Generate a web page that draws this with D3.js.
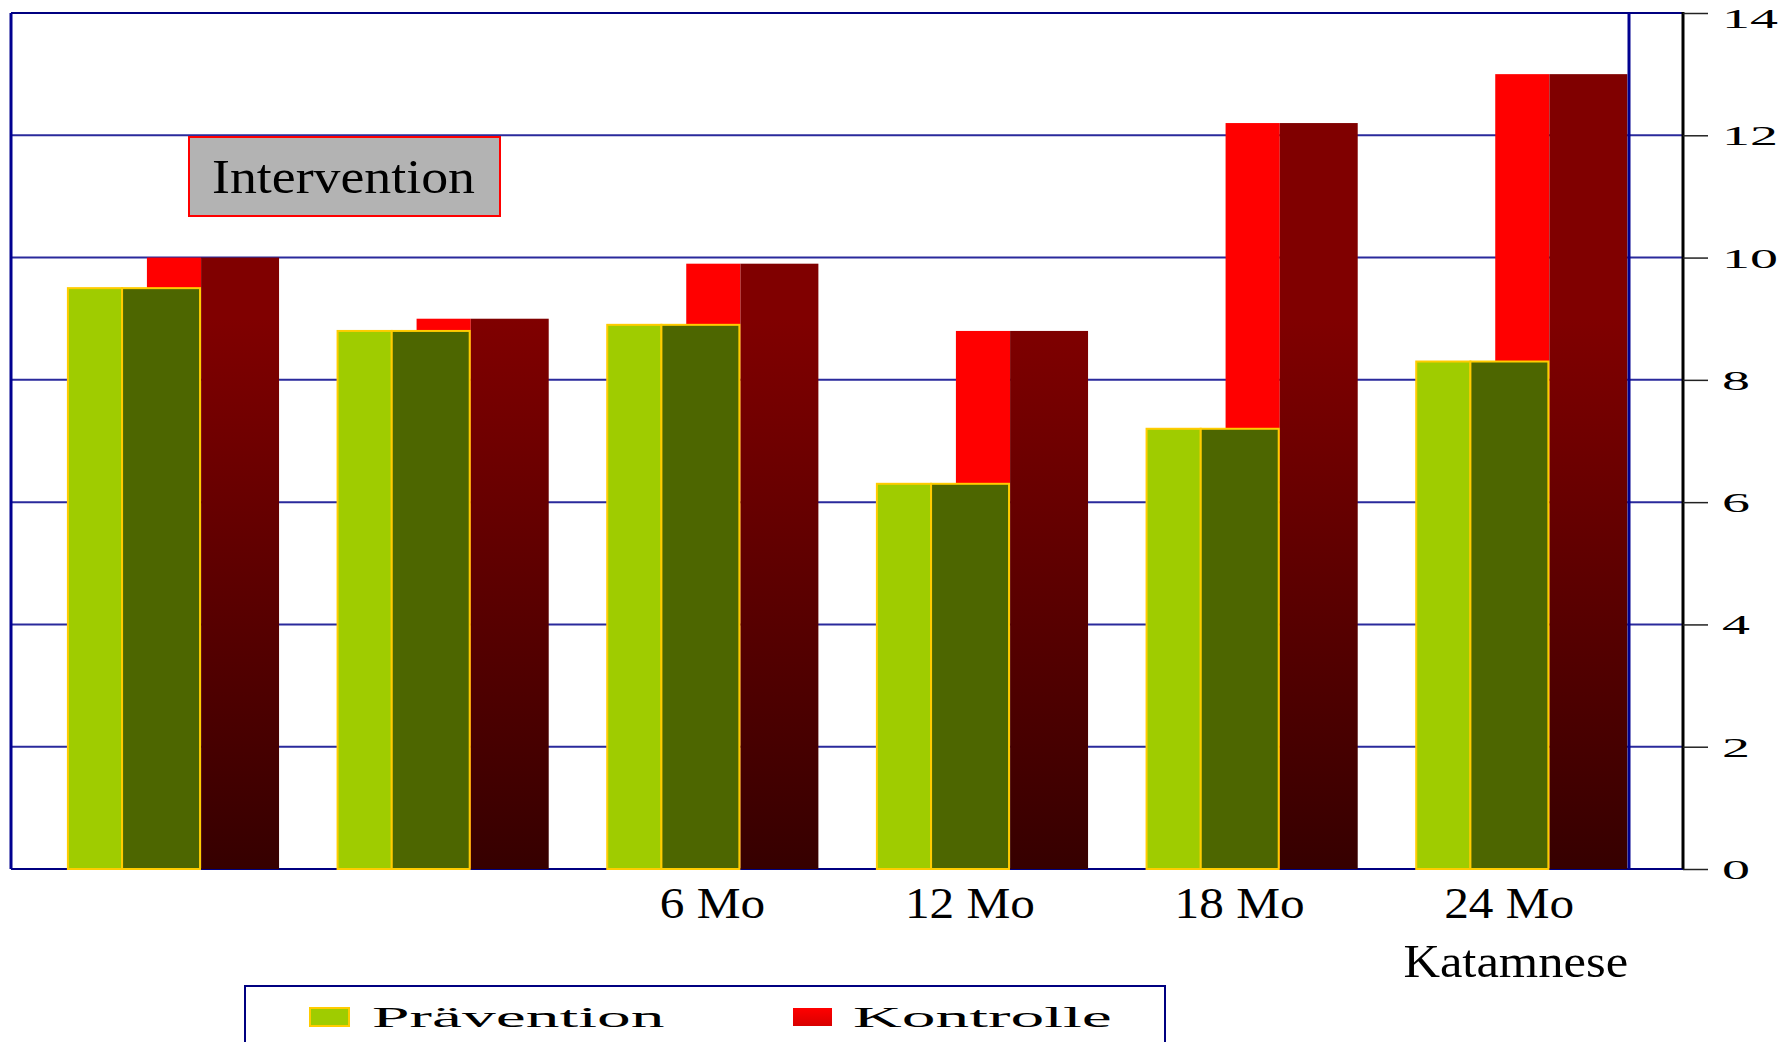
<!DOCTYPE html>
<html>
<head>
<meta charset="utf-8">
<script src="https://cdn.jsdelivr.net/npm/d3@7"></script>
<style>
  html, body { margin: 0; padding: 0; background: #fff; }
  svg { display: block; }
  text { font-family: "Liberation Serif", "Times New Roman", serif; fill: #000; }
</style>
</head>
<body>
<script>
// Messzeitpunkte (die ersten beiden ohne Beschriftung)
const categories = ["T1", "T2", "6 Mo", "12 Mo", "18 Mo", "24 Mo"];
const xLabels = ["", "", "6 Mo", "12 Mo", "18 Mo", "24 Mo"];
const seriesNames = ["Prävention", "Kontrolle"];
const praevention = [9.5, 8.8, 8.9, 6.3, 7.2, 8.3];
const kontrolle = [10.0, 9.0, 9.9, 8.8, 12.2, 13.0];
const yTicks = [0, 2, 4, 6, 8, 10, 12, 14];

const W = 1785, H = 1042;
const plot = { left: 11, right: 1629, top: 13, bottom: 869 };
const axisX = 1683;

const svg = d3.select("body").append("svg").attr("width", W).attr("height", H);

const defs = svg.append("defs");
const y = d3.scaleLinear().domain([0, 14]).range([plot.bottom, plot.top]);

// dunkle Seitenfläche der Kontrollbalken: nach unten abdunkelnd
const gDark = defs.append("linearGradient").attr("id", "darkRed")
  .attr("gradientUnits", "userSpaceOnUse")
  .attr("x1", 0).attr("x2", 0).attr("y1", y(9)).attr("y2", y(0));
gDark.append("stop").attr("offset", 0).attr("stop-color", "#800000");
gDark.append("stop").attr("offset", 1).attr("stop-color", "#360000");

const gLeg = defs.append("linearGradient").attr("id", "legRed")
  .attr("x1", 0).attr("x2", 0).attr("y1", 0).attr("y2", 1);
gLeg.append("stop").attr("offset", 0).attr("stop-color", "#ff0000");
gLeg.append("stop").attr("offset", 1).attr("stop-color", "#d80000");

const x0 = d3.scaleBand().domain(categories).range([plot.left, plot.right]).padding(0);
const bw = x0.bandwidth();
// Lage der beiden Reihen innerhalb einer Gruppe (überlappende Pseudo-3D-Balken)
const xs = d3.scaleLinear().domain([0, 1]).range([bw * 0.211, bw * 0.504]);
const barW = bw * 0.49;      // Gesamtbreite eines Balkens (Front + Seite)
const frontFrac = 0.41;      // Anteil der hellen Frontfläche

// Gitterlinien
const grid = svg.append("g");
grid.selectAll("line").data(yTicks).join("line")
  .attr("x1", plot.left).attr("x2", axisX)
  .attr("y1", d => y(d)).attr("y2", d => y(d))
  .attr("stroke", d => (d === 0 || d === 14) ? "#000080" : "#2a2a9c")
  .attr("stroke-width", 2);

// Balken
const series = [
  { name: seriesNames[1], values: kontrolle, i: 1, front: "#ff0000", side: "url(#darkRed)", stroke: "none" },
  { name: seriesNames[0], values: praevention, i: 0, front: "#9fcc00", side: "#4d6600", stroke: "#ffcc00" }
];
const bars = svg.append("g");
series.forEach(s => {
  const g = bars.append("g");
  g.selectAll("rect.front").data(categories).join("rect").attr("class", "front")
    .attr("x", c => x0(c) + xs(s.i))
    .attr("y", (c, k) => y(s.values[k]))
    .attr("width", barW * frontFrac)
    .attr("height", (c, k) => y(0) - y(s.values[k]))
    .attr("fill", s.front)
    .attr("stroke", s.stroke).attr("stroke-width", 2);
  g.selectAll("rect.side").data(categories).join("rect").attr("class", "side")
    .attr("x", c => x0(c) + xs(s.i) + barW * frontFrac)
    .attr("y", (c, k) => y(s.values[k]))
    .attr("width", barW * (1 - frontFrac))
    .attr("height", (c, k) => y(0) - y(s.values[k]))
    .attr("fill", s.side)
    .attr("stroke", s.stroke).attr("stroke-width", 2);
});

// Rahmen der Zeichenfläche
svg.append("line").attr("x1", plot.left).attr("x2", plot.left)
  .attr("y1", plot.top).attr("y2", plot.bottom).attr("stroke", "#000090").attr("stroke-width", 3);
svg.append("line").attr("x1", plot.right).attr("x2", plot.right)
  .attr("y1", plot.top).attr("y2", plot.bottom).attr("stroke", "#000090").attr("stroke-width", 3);

// rechte Achse
const axis = svg.append("g").attr("transform", `translate(${axisX},0)`)
  .call(d3.axisRight(y).tickValues(yTicks).tickSize(25).tickFormat(""));
axis.select(".domain").attr("stroke", "#000").attr("stroke-width", 3)
  .attr("d", `M0,${plot.top - 1}V${plot.bottom}`);
axis.selectAll(".tick line").attr("stroke", "#222").attr("stroke-width", 1.5);
// oberste Beschriftung so weit nach unten rücken, dass sie ganz sichtbar bleibt
axis.selectAll(".tick").append("text")
  .attr("transform", d => `translate(39,${Math.max(0, 18 - y(d))}) scale(2,1)`)
  .attr("dy", "0.34em")
  .attr("text-anchor", "start")
  .style("font-size", "28px")
  .text(d => d);

// Kategorienbeschriftung
svg.append("g").selectAll("text").data(categories).join("text")
  .attr("transform", c => `translate(${x0(c) + bw * 0.797},918) scale(1.12,1)`)
  .attr("text-anchor", "end")
  .style("font-size", "44px")
  .text((c, k) => xLabels[k]);
svg.append("text")
  .attr("transform", `translate(${x0(categories[5]) + bw * 0.58},977) scale(1.1,1)`)
  .attr("text-anchor", "middle")
  .style("font-size", "46px")
  .text("Katamnese");

// Hinweisfeld
const note = svg.append("g");
note.append("rect").attr("x", 189).attr("y", 137).attr("width", 311).attr("height", 79)
  .attr("fill", "#b3b3b3").attr("stroke", "#ff0000").attr("stroke-width", 2);
note.append("text").attr("x", 212).attr("y", 193)
  .attr("textLength", 263).attr("lengthAdjust", "spacingAndGlyphs")
  .style("font-size", "49px").text("Intervention");

// Legende
const leg = svg.append("g");
leg.append("rect").attr("x", 245).attr("y", 986).attr("width", 920).attr("height", 90)
  .attr("fill", "#fff").attr("stroke", "#000080").attr("stroke-width", 2);
const legItems = [
  { name: seriesNames[0], sx: 310, tx: 372, fill: "#9fcc00", stroke: "#ffcc00" },
  { name: seriesNames[1], sx: 793, tx: 853, fill: "url(#legRed)", stroke: "none" }
];
legItems.forEach(it => {
  leg.append("rect").attr("x", it.sx).attr("y", 1008).attr("width", 39).attr("height", 18)
    .attr("fill", it.fill).attr("stroke", it.stroke).attr("stroke-width", 2);
  leg.append("text").attr("transform", `translate(${it.tx},1027) scale(2.25,1)`)
    .style("font-size", "30px").text(it.name);
});
</script>
</body>
</html>
